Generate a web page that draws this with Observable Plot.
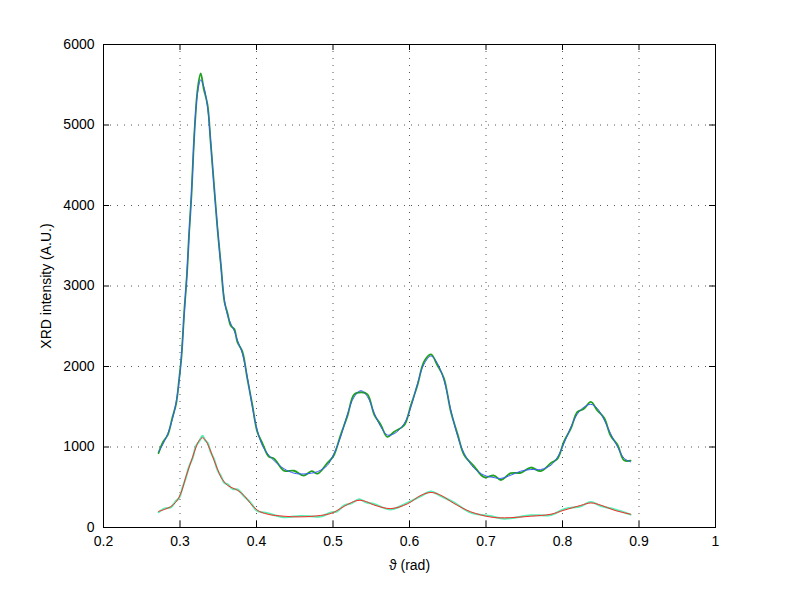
<!DOCTYPE html>
<html>
<head>
<meta charset="utf-8">
<script src="https://cdn.jsdelivr.net/npm/d3@7"></script>
<script src="https://cdn.jsdelivr.net/npm/@observablehq/plot@0.6"></script>
<style>
  html, body { margin: 0; padding: 0; background: #fff; }
  #chart { width: 789px; height: 593px; }
</style>
</head>
<body>
<div id="chart"></div>
<script>
// Upper series: angle (rad), fitted curve, measured data
const tUpper = [0.272,0.278,0.284,0.290,0.295,0.299,0.302,0.3055,0.309,0.312,0.315,0.3175,0.320,0.323,0.327,0.331,0.336,0.340,0.3445,0.349,0.3535,0.358,0.362,0.3665,0.371,0.375,0.3815,0.388,0.3945,0.401,0.408,0.416,0.423,0.436,0.449,0.462,0.472,0.480,0.4925,0.501,0.510,0.519,0.5275,0.5365,0.545,0.554,0.5625,0.571,0.580,0.593,0.602,0.6105,0.619,0.628,0.6365,0.645,0.654,0.663,0.6715,0.6845,0.6975,0.7105,0.7195,0.7325,0.7455,0.7585,0.7715,0.785,0.7935,0.802,0.811,0.8195,0.828,0.837,0.8455,0.8545,0.863,0.872,0.8805,0.889];
const fitUpper = [940,1040,1165,1340,1560,1830,2150,2650,3150,3650,4150,4640,5100,5400,5560,5480,5220,4810,4230,3730,3240,2830,2640,2530,2440,2330,2160,1870,1500,1210,1010,900,830,730,675,665,675,695,770,915,1125,1410,1620,1700,1625,1420,1250,1150,1165,1290,1500,1790,2030,2130,2040,1830,1460,1130,920,735,650,620,610,650,700,720,720,775,875,1045,1250,1410,1495,1530,1480,1335,1165,1000,860,815];
const measUpper = [925,1065,1150,1365,1540,1855,2130,2675,3130,3670,4130,4660,5080,5440,5640,5450,5250,4790,4250,3710,3260,2810,2665,2505,2465,2305,2185,1850,1525,1190,1040,880,855,705,705,645,700,670,800,895,1150,1390,1650,1680,1655,1400,1275,1125,1190,1270,1525,1770,2060,2150,2015,1855,1440,1155,900,760,625,645,590,675,680,745,700,800,855,1070,1230,1435,1475,1560,1455,1360,1140,1025,835,830];

// Lower series
const tLower = [0.272,0.280,0.288,0.294,0.299,0.3035,0.3075,0.312,0.3165,0.321,0.325,0.3295,0.333,0.336,0.340,0.3445,0.349,0.3535,0.358,0.362,0.369,0.3755,0.3835,0.392,0.401,0.4145,0.436,0.458,0.484,0.4975,0.505,0.5145,0.524,0.534,0.544,0.5535,0.5755,0.5975,0.615,0.628,0.641,0.658,0.680,0.706,0.724,0.7585,0.785,0.802,0.824,0.837,0.850,0.8675,0.889];
const fitLower = [200,225,260,310,380,490,625,750,875,1000,1080,1115,1090,1040,950,835,725,625,565,525,490,460,400,300,215,165,140,132,150,175,210,262,310,338,320,280,235,295,400,435,400,300,195,130,120,140,165,215,275,305,278,215,165];
const measLower = [190,238,250,322,370,502,612,762,862,1015,1068,1140,1078,1055,938,848,712,640,552,538,478,472,390,312,205,178,128,144,138,188,198,275,300,350,310,292,224,308,390,448,390,312,184,142,110,152,155,228,265,318,268,226,160];

const xTicks = [0.2,0.3,0.4,0.5,0.6,0.7,0.8,0.9,1];
const yTicks = [0,1000,2000,3000,4000,5000,6000];
const xGrid = [0.3,0.4,0.5,0.6,0.7,0.8,0.9];
const yGrid = [1000,2000,3000,4000,5000];

const upperFit = tUpper.map((t, i) => ({t, v: fitUpper[i]}));
const upperMeas = tUpper.map((t, i) => ({t, v: measUpper[i]}));
const lowerFit = tLower.map((t, i) => ({t, v: fitLower[i]}));
const lowerMeas = tLower.map((t, i) => ({t, v: measLower[i]}));

const W = 789, H = 593;
const mL = 103, mR = 74, mT = 44, mB = 66;
const innerW = W - mL - mR, innerH = H - mT - mB;
const tick = 6;

const chart = Plot.plot({
  width: W,
  height: H,
  marginLeft: mL,
  marginRight: mR,
  marginTop: mT,
  marginBottom: mB,
  style: {fontFamily: "'Liberation Sans', Arial, Helvetica, sans-serif", fontSize: "14px", background: "white", color: "black"},
  x: {domain: [0.2, 1]},
  y: {domain: [0, 6000]},
  marks: [
    Plot.ruleX(xGrid, {stroke: "#555", strokeDasharray: "1,6", strokeWidth: 1}),
    Plot.ruleY(yGrid, {stroke: "#555", strokeDasharray: "1,6", strokeWidth: 1}),
    Plot.line(upperMeas, {x: "t", y: "v", stroke: "#1fa01f", strokeWidth: 1.8, curve: "catmull-rom"}),
    Plot.line(upperFit, {x: "t", y: "v", stroke: "#3b5bff", strokeWidth: 1, curve: "catmull-rom"}),
    Plot.line(lowerMeas, {x: "t", y: "v", stroke: "#55f0b4", strokeWidth: 2, curve: "catmull-rom"}),
    Plot.line(lowerFit, {x: "t", y: "v", stroke: "#ff2a2a", strokeWidth: 1, curve: "catmull-rom"}),
    // inward ticks on all four sides
    Plot.ruleX(xTicks, {stroke: "black", insetTop: innerH - tick}),
    Plot.ruleX(xTicks, {stroke: "black", insetBottom: innerH - tick}),
    Plot.ruleY(yTicks, {stroke: "black", insetRight: innerW - tick}),
    Plot.ruleY(yTicks, {stroke: "black", insetLeft: innerW - tick}),
    Plot.frame({stroke: "black", strokeWidth: 1}),
    Plot.axisX(xTicks, {anchor: "bottom", tickSize: 0, tickPadding: 9, tickFormat: d => String(d), label: "ϑ (rad)", labelAnchor: "center", labelArrow: "none", labelOffset: 42, fontSize: 14}),
    Plot.axisY(yTicks, {anchor: "left", tickSize: 0, tickPadding: 9, tickFormat: d => String(d), label: "XRD intensity (A.U.)", labelAnchor: "center", labelArrow: "none", labelOffset: 62, fontSize: 14})
  ]
});
document.getElementById("chart").appendChild(chart);
</script>
</body>
</html>
